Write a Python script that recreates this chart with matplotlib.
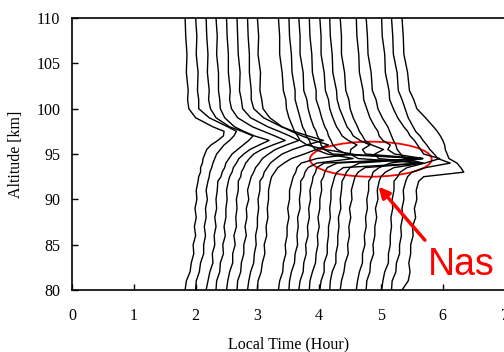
import matplotlib
matplotlib.use("Agg")
import matplotlib.pyplot as plt
from matplotlib.patches import Ellipse
import numpy as np

# === DATA ===
# start time of each profile (hour)
base_hr = [1.83, 2.00, 2.17, 2.33, 2.50, 2.67, 2.84, 3.00, 3.34, 3.51,
           3.67, 3.84, 4.01, 4.17, 4.34, 4.60, 4.76, 5.01, 5.17, 5.34]

alt_km = [80, 81, 82, 83, 84, 85, 86, 87, 88, 89, 90, 91, 92,
          92.5, 93, 93.5, 94, 94.5, 95, 95.5, 96, 96.5, 97, 97.5, 98,
          99, 100, 101, 102, 104, 106, 108, 110]

# horizontal offset of each profile (hour) at the altitudes above
na_offset = [
    [0, .02, .08, .10, .14, .13, .17, .15, .18, .16, .19, .18, .21,
     .22, .25, .25, .28, .29, .32, .35, .42, .53, .62, .63, .45,
     .17, .06, .04, .05, .02, .03, .01, 0],
    [0, .01, .06, .08, .13, .13, .16, .14, .17, .16, .19, .17, .20,
     .22, .23, .26, .28, .31, .34, .40, .46, .55, .62, .66, .52,
     .22, .05, .05, .03, .04, .01, .02, 0],
    [0, .03, .06, .11, .10, .14, .13, .16, .14, .17, .16, .18, .19,
     .24, .26, .30, .32, .37, .42, .51, .60, .69, .76, .58, .38,
     .16, .07, .04, .05, .02, .03, .01, 0],
    [0, .01, .06, .07, .12, .11, .15, .13, .16, .16, .18, .17, .20,
     .22, .26, .28, .33, .37, .45, .55, .70, .86, .62, .45, .30,
     .14, .07, .06, .04, .04, .01, .02, 0],
    [0, .02, .05, .10, .10, .14, .12, .16, .15, .17, .16, .19, .19,
     .23, .24, .28, .31, .37, .44, .57, .75, .95, .78, .60, .42,
     .18, .08, .05, .06, .03, .03, .01, 0],
    [0, .01, .06, .07, .11, .11, .15, .13, .16, .15, .19, .17, .21,
     .23, .27, .30, .36, .41, .51, .62, .80, 1.00, .85, .68, .50,
     .22, .09, .07, .04, .05, .02, .01, 0],
    [0, .02, .05, .10, .11, .14, .13, .16, .16, .18, .17, .20, .20,
     .25, .27, .32, .37, .46, .56, .73, .95, 1.23, .98, .75, .55,
     .26, .10, .06, .06, .03, .03, .01, 0],
    [0, .01, .06, .08, .12, .11, .15, .14, .17, .16, .18, .18, .21,
     .23, .28, .33, .43, .55, .76, .95, 1.15, .92, .72, .55, .40,
     .20, .09, .07, .04, .05, .01, .02, 0],
    [0, .02, .07, .08, .12, .11, .14, .14, .17, .15, .18, .18, .22,
     .24, .28, .30, .37, .62, 1.20, .75, .46, .35, .31, .26, .23,
     .17, .13, .12, .08, .06, .02, .02, 0],
    [0, .01, .04, .09, .10, .14, .13, .15, .14, .18, .17, .19, .19,
     .24, .26, .31, .45, 1.04, .62, .43, .36, .33, .28, .26, .22,
     .18, .14, .10, .10, .05, .04, .01, 0],
    [0, .02, .07, .08, .12, .11, .15, .14, .17, .16, .19, .18, .22,
     .23, .27, .29, .41, 2.00, .55, .41, .36, .34, .30, .28, .24,
     .19, .15, .13, .08, .07, .02, .02, 0],
    [0, .01, .05, .10, .11, .14, .13, .16, .14, .17, .17, .20, .19,
     .23, .25, .29, .45, 1.83, .60, .45, .38, .35, .31, .29, .25,
     .20, .16, .11, .11, .05, .04, .01, 0],
    [0, .02, .07, .07, .12, .12, .14, .14, .17, .16, .18, .18, .22,
     .24, .28, .38, 1.66, .62, .49, .50, .60, .46, .36, .32, .27,
     .21, .16, .14, .09, .07, .02, .02, 0],
    [0, .01, .04, .10, .10, .13, .13, .15, .14, .18, .17, .19, .20,
     .24, .27, .33, .48, 1.50, .58, .53, .65, .49, .38, .34, .28,
     .22, .16, .12, .11, .05, .04, .01, 0],
    [0, .02, .06, .08, .13, .12, .15, .14, .17, .15, .19, .18, .22,
     .24, .29, .40, 1.34, .62, .56, .70, .51, .40, .36, .31, .28,
     .21, .16, .14, .09, .07, .02, .02, 0],
    [0, .02, .05, .10, .10, .14, .13, .16, .15, .18, .17, .20, .20,
     .25, .27, .37, .55, 1.08, .62, .51, .55, .43, .37, .35, .30,
     .22, .17, .12, .11, .05, .04, .01, 0],
    [0, .01, .06, .07, .12, .11, .14, .14, .17, .15, .19, .18, .21,
     .24, .31, .45, .92, .62, .56, .50, .48, .44, .41, .38, .35,
     .26, .19, .16, .10, .08, .03, .02, 0],
    [0, .02, .05, .11, .11, .14, .14, .16, .15, .18, .17, .20, .20,
     .26, .30, .41, .70, .94, .68, .63, .58, .53, .46, .42, .36,
     .26, .19, .13, .12, .06, .05, .01, 0],
    [0, .01, .07, .08, .13, .13, .16, .15, .18, .17, .20, .19, .23,
     .26, .33, .55, .95, .75, .69, .62, .57, .51, .46, .39, .35,
     .27, .22, .17, .11, .09, .03, .02, 0],
    [0, .10, .13, .11, .14, .14, .18, .17, .22, .20, .24, .23, .27,
     .35, 1.00, .95, .89, .76, .73, .70, .69, .66, .62, .57, .51,
     .38, .24, .19, .12, .09, .03, .02, 0],
]

x_ticks = [0, 1, 2, 3, 4, 5, 6, 7]
y_ticks = [80, 85, 90, 95, 100, 105, 110]

# === PLOT ===
plt.rcParams['font.family'] = ['Liberation Serif', 'DejaVu Serif']

fig = plt.figure(figsize=(5.04, 3.52), dpi=100)
ax = fig.add_axes([0.1429, 0.1761, 0.8583, 0.7727])

alt = np.array(alt_km)
for b, off in zip(base_hr, na_offset):
    ax.plot(b + np.array(off), alt, color='black', lw=1.0)

ax.add_patch(Ellipse((4.835, 94.43), 1.97, 3.86, fill=False,
                     edgecolor='red', lw=1.3))
ax.annotate('', xy=(4.96, 91.4), xytext=(5.71, 85.5),
            arrowprops=dict(arrowstyle='-|>', color='red', lw=2.5,
                            mutation_scale=16, shrinkA=0, shrinkB=0))
ax.text(5.76, 81.7, 'Nas', color='red', fontsize=27,
        family=['Liberation Sans', 'DejaVu Sans'], va='baseline')

ax.set_xlim(0, 7)
ax.set_ylim(80, 110)
ax.set_xticks(x_ticks)
ax.set_yticks(y_ticks)
ax.tick_params(axis='x', direction='in', length=4, width=1, pad=13, labelsize=11.5)
ax.tick_params(axis='y', direction='in', length=4, width=1, pad=8.5, labelsize=11.5)
ax.spines['right'].set_visible(False)
for s in ['left', 'bottom', 'top']:
    ax.spines[s].set_linewidth(1.2)

ax.set_xlabel('Local Time (Hour)', fontsize=11.5)
ax.set_ylabel('Altitude [km]', fontsize=11.5)
ax.xaxis.set_label_coords(0.5, -0.172)
ax.yaxis.set_label_coords(-0.112, 0.5)

fig.savefig('out.png', dpi=100)
